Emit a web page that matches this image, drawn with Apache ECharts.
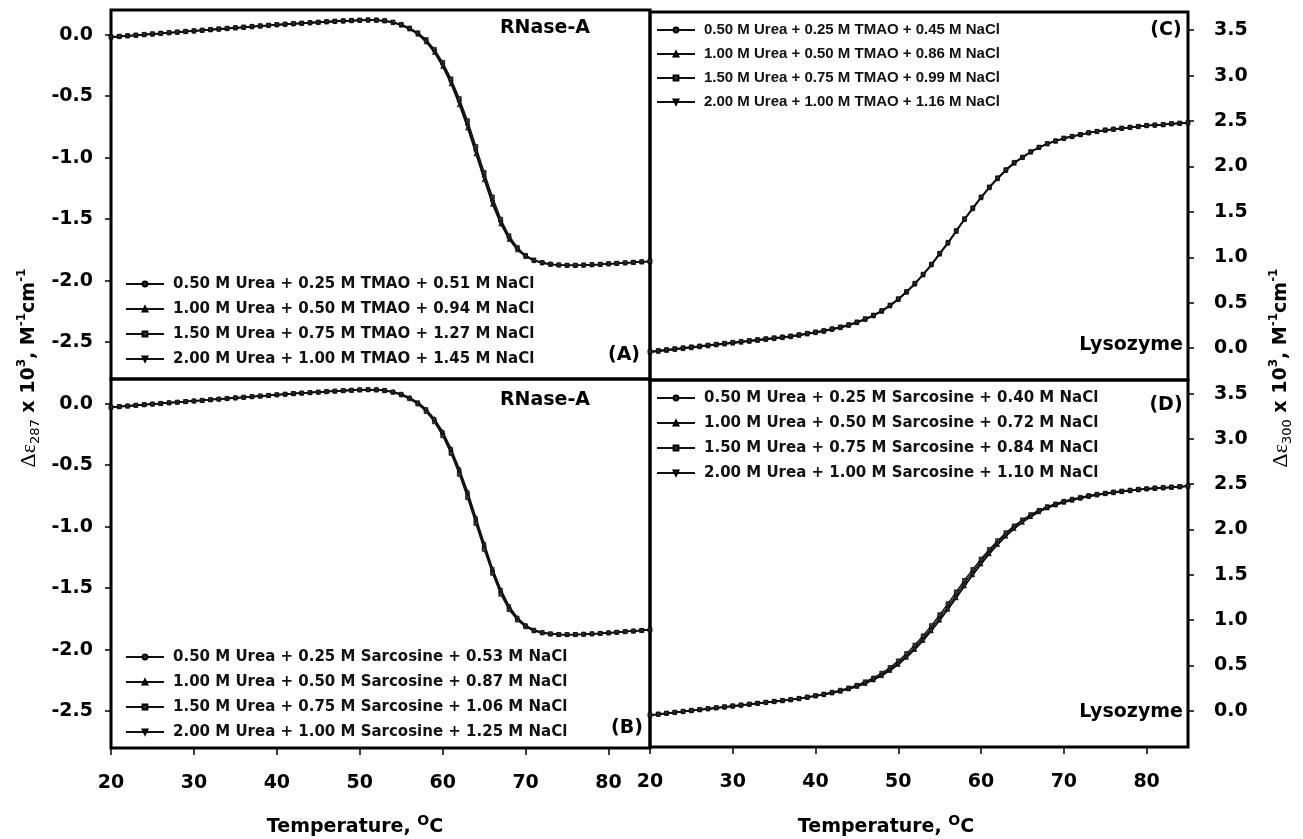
<!DOCTYPE html>
<html><head><meta charset="utf-8">
<script src="https://cdn.jsdelivr.net/npm/echarts@6/dist/echarts.min.js"></script>
<style>html,body{margin:0;padding:0;background:#fff}#c{width:1303px;height:839px}</style>
</head><body><div id="c"></div>
<script>
const temps = [20,21,22,23,24,25,26,27,28,29,30,31,32,33,34,35,36,37,38,39,40,41,42,43,44,45,46,47,48,49,50,51,52,53,54,55,56,57,58,59,60,61,62,63,64,65,66,67,68,69,70,71,72,73,74,75,76,77,78,79,80,81,82,83,84,85];
const xTicks = [20,30,40,50,60,70,80];
const yTicksRnase = [-2.5,-2.0,-1.5,-1.0,-0.5,0.0];
const yTicksLyso = [0.0,0.5,1.0,1.5,2.0,2.5,3.0,3.5];

const namesA = ['0.50 M Urea + 0.25 M TMAO + 0.51 M NaCl','1.00 M Urea + 0.50 M TMAO + 0.94 M NaCl','1.50 M Urea + 0.75 M TMAO + 1.27 M NaCl','2.00 M Urea + 1.00 M TMAO + 1.45 M NaCl'];
const namesB = ['0.50 M Urea + 0.25 M Sarcosine + 0.53 M NaCl','1.00 M Urea + 0.50 M Sarcosine + 0.87 M NaCl','1.50 M Urea + 0.75 M Sarcosine + 1.06 M NaCl','2.00 M Urea + 1.00 M Sarcosine + 1.25 M NaCl'];
const namesC = ['0.50 M Urea + 0.25 M TMAO + 0.45 M NaCl','1.00 M Urea + 0.50 M TMAO + 0.86 M NaCl','1.50 M Urea + 0.75 M TMAO + 0.99 M NaCl','2.00 M Urea + 1.00 M TMAO + 1.16 M NaCl'];
const namesD = ['0.50 M Urea + 0.25 M Sarcosine + 0.40 M NaCl','1.00 M Urea + 0.50 M Sarcosine + 0.72 M NaCl','1.50 M Urea + 0.75 M Sarcosine + 0.84 M NaCl','2.00 M Urea + 1.00 M Sarcosine + 1.10 M NaCl'];

const A1 = [-0.02,-0.015,-0.01,-0.005,0.0,0.005,0.01,0.015,0.02,0.025,0.03,0.035,0.04,0.045,0.05,0.055,0.06,0.065,0.07,0.075,0.08,0.084,0.088,0.092,0.096,0.10,0.104,0.108,0.111,0.114,0.117,0.119,0.118,0.112,0.10,0.08,0.05,0.01,-0.05,-0.13,-0.24,-0.38,-0.54,-0.73,-0.94,-1.15,-1.35,-1.52,-1.65,-1.74,-1.80,-1.835,-1.855,-1.867,-1.873,-1.876,-1.876,-1.874,-1.871,-1.868,-1.864,-1.86,-1.856,-1.852,-1.848,-1.844];
const A2 = [-0.022,-0.017,-0.012,-0.007,-0.002,0.003,0.008,0.013,0.018,0.023,0.028,0.033,0.038,0.043,0.048,0.053,0.058,0.063,0.068,0.073,0.078,0.082,0.086,0.09,0.094,0.098,0.102,0.106,0.109,0.112,0.115,0.117,0.116,0.11,0.097,0.076,0.045,0.003,-0.06,-0.145,-0.26,-0.40,-0.57,-0.76,-0.97,-1.18,-1.38,-1.54,-1.665,-1.75,-1.805,-1.838,-1.857,-1.868,-1.874,-1.877,-1.877,-1.875,-1.872,-1.869,-1.865,-1.861,-1.857,-1.853,-1.849,-1.845];
const A3 = [-0.018,-0.013,-0.008,-0.003,0.002,0.007,0.012,0.017,0.022,0.027,0.032,0.037,0.042,0.047,0.052,0.057,0.062,0.067,0.072,0.077,0.082,0.086,0.09,0.094,0.098,0.102,0.106,0.11,0.113,0.116,0.118,0.12,0.119,0.114,0.102,0.083,0.054,0.015,-0.04,-0.12,-0.225,-0.36,-0.52,-0.70,-0.91,-1.12,-1.32,-1.50,-1.635,-1.73,-1.795,-1.832,-1.853,-1.866,-1.872,-1.875,-1.875,-1.873,-1.87,-1.867,-1.863,-1.859,-1.855,-1.851,-1.847,-1.843];
const A4 = [-0.021,-0.016,-0.011,-0.006,-0.001,0.004,0.009,0.014,0.019,0.024,0.029,0.034,0.039,0.044,0.049,0.054,0.059,0.064,0.069,0.074,0.079,0.083,0.087,0.091,0.095,0.099,0.103,0.107,0.11,0.113,0.116,0.118,0.117,0.111,0.099,0.078,0.047,0.006,-0.055,-0.14,-0.25,-0.39,-0.555,-0.745,-0.955,-1.165,-1.365,-1.53,-1.658,-1.745,-1.802,-1.836,-1.856,-1.867,-1.874,-1.876,-1.876,-1.874,-1.871,-1.868,-1.864,-1.86,-1.856,-1.852,-1.848,-1.844];

const B1 = [-0.03,-0.025,-0.02,-0.014,-0.009,-0.004,0.001,0.006,0.011,0.016,0.021,0.026,0.031,0.036,0.041,0.046,0.051,0.056,0.061,0.066,0.071,0.076,0.081,0.085,0.089,0.093,0.097,0.101,0.105,0.108,0.111,0.113,0.112,0.106,0.094,0.074,0.044,0.003,-0.055,-0.135,-0.245,-0.385,-0.55,-0.74,-0.95,-1.16,-1.36,-1.53,-1.66,-1.75,-1.81,-1.845,-1.863,-1.873,-1.877,-1.878,-1.877,-1.875,-1.872,-1.868,-1.864,-1.859,-1.854,-1.849,-1.844,-1.839];
const B2 = [-0.028,-0.023,-0.018,-0.012,-0.007,-0.002,0.003,0.008,0.013,0.018,0.023,0.028,0.033,0.038,0.043,0.048,0.053,0.058,0.063,0.068,0.073,0.078,0.083,0.087,0.091,0.095,0.099,0.103,0.107,0.11,0.113,0.115,0.114,0.108,0.097,0.078,0.049,0.01,-0.045,-0.122,-0.228,-0.365,-0.53,-0.715,-0.925,-1.135,-1.34,-1.51,-1.645,-1.74,-1.803,-1.84,-1.86,-1.871,-1.876,-1.877,-1.876,-1.874,-1.871,-1.867,-1.863,-1.858,-1.853,-1.848,-1.843,-1.838];
const B3 = [-0.031,-0.026,-0.021,-0.015,-0.01,-0.005,0.0,0.005,0.01,0.015,0.02,0.025,0.03,0.035,0.04,0.045,0.05,0.055,0.06,0.065,0.07,0.075,0.08,0.084,0.088,0.092,0.096,0.1,0.104,0.107,0.11,0.112,0.11,0.104,0.091,0.07,0.039,-0.004,-0.065,-0.148,-0.262,-0.405,-0.575,-0.765,-0.975,-1.185,-1.38,-1.55,-1.675,-1.76,-1.815,-1.848,-1.865,-1.874,-1.878,-1.879,-1.878,-1.876,-1.873,-1.869,-1.865,-1.86,-1.855,-1.85,-1.845,-1.84];
const B4 = [-0.029,-0.024,-0.019,-0.013,-0.008,-0.003,0.002,0.007,0.012,0.017,0.022,0.027,0.032,0.037,0.042,0.047,0.052,0.057,0.062,0.067,0.072,0.077,0.082,0.086,0.09,0.094,0.098,0.102,0.106,0.109,0.112,0.114,0.113,0.107,0.095,0.076,0.046,0.006,-0.05,-0.13,-0.238,-0.375,-0.54,-0.728,-0.938,-1.148,-1.35,-1.52,-1.652,-1.745,-1.806,-1.842,-1.861,-1.872,-1.877,-1.878,-1.877,-1.875,-1.872,-1.868,-1.864,-1.859,-1.854,-1.849,-1.844,-1.839];

const C1 = [-0.04,-0.03,-0.02,-0.01,0.0,0.01,0.02,0.03,0.04,0.05,0.06,0.07,0.08,0.09,0.10,0.11,0.12,0.13,0.145,0.16,0.175,0.19,0.21,0.23,0.255,0.285,0.32,0.36,0.41,0.47,0.54,0.62,0.71,0.81,0.92,1.04,1.16,1.29,1.42,1.54,1.66,1.77,1.87,1.96,2.04,2.10,2.16,2.21,2.25,2.28,2.31,2.33,2.35,2.37,2.385,2.40,2.41,2.42,2.43,2.44,2.45,2.455,2.46,2.47,2.475,2.48];
const C2 = [-0.045,-0.035,-0.025,-0.015,-0.005,0.005,0.015,0.025,0.035,0.045,0.055,0.065,0.075,0.085,0.095,0.105,0.115,0.125,0.14,0.155,0.17,0.185,0.205,0.225,0.25,0.28,0.315,0.355,0.405,0.465,0.535,0.615,0.705,0.805,0.915,1.035,1.155,1.285,1.415,1.535,1.655,1.765,1.865,1.955,2.035,2.098,2.158,2.208,2.248,2.278,2.308,2.328,2.348,2.368,2.383,2.398,2.408,2.418,2.428,2.438,2.448,2.453,2.458,2.468,2.473,2.478];
const C3 = [-0.035,-0.025,-0.015,-0.005,0.005,0.015,0.025,0.035,0.045,0.055,0.065,0.075,0.085,0.095,0.105,0.115,0.125,0.135,0.15,0.165,0.18,0.195,0.215,0.235,0.26,0.29,0.325,0.365,0.415,0.475,0.545,0.625,0.715,0.815,0.925,1.045,1.165,1.295,1.425,1.545,1.665,1.775,1.875,1.965,2.045,2.102,2.162,2.212,2.252,2.282,2.312,2.332,2.352,2.372,2.387,2.402,2.412,2.422,2.432,2.442,2.452,2.457,2.462,2.472,2.477,2.482];
const C4 = [-0.042,-0.032,-0.022,-0.012,-0.002,0.008,0.018,0.028,0.038,0.048,0.058,0.068,0.078,0.088,0.098,0.108,0.118,0.128,0.143,0.158,0.173,0.188,0.208,0.228,0.253,0.283,0.318,0.358,0.408,0.468,0.538,0.618,0.708,0.808,0.918,1.038,1.158,1.288,1.418,1.538,1.658,1.768,1.868,1.958,2.038,2.1,2.16,2.21,2.25,2.28,2.31,2.33,2.35,2.37,2.385,2.4,2.41,2.42,2.43,2.44,2.45,2.455,2.46,2.47,2.475,2.48];

const D1 = [-0.05,-0.04,-0.03,-0.02,-0.01,0.0,0.01,0.02,0.03,0.04,0.05,0.06,0.07,0.08,0.09,0.10,0.11,0.12,0.135,0.15,0.165,0.18,0.20,0.22,0.245,0.275,0.31,0.35,0.40,0.46,0.53,0.61,0.70,0.80,0.91,1.03,1.15,1.28,1.41,1.53,1.65,1.76,1.86,1.95,2.03,2.10,2.16,2.21,2.25,2.28,2.31,2.33,2.35,2.37,2.385,2.40,2.41,2.42,2.43,2.44,2.45,2.455,2.46,2.465,2.47,2.48];
const D2 = [-0.05,-0.04,-0.03,-0.02,-0.01,0.0,0.01,0.02,0.03,0.04,0.05,0.06,0.07,0.08,0.09,0.10,0.11,0.12,0.132,0.147,0.162,0.177,0.195,0.215,0.24,0.267,0.30,0.34,0.387,0.445,0.512,0.59,0.677,0.775,0.882,1.0,1.12,1.247,1.377,1.5,1.62,1.732,1.835,1.927,2.01,2.08,2.142,2.195,2.237,2.27,2.30,2.322,2.345,2.365,2.38,2.395,2.405,2.417,2.427,2.437,2.447,2.452,2.457,2.465,2.47,2.477];
const D3 = [-0.045,-0.035,-0.025,-0.015,-0.005,0.005,0.015,0.025,0.035,0.045,0.055,0.065,0.075,0.085,0.095,0.105,0.115,0.125,0.137,0.152,0.167,0.185,0.205,0.227,0.252,0.282,0.32,0.362,0.415,0.477,0.55,0.632,0.725,0.827,0.94,1.06,1.182,1.312,1.44,1.56,1.675,1.78,1.877,1.965,2.04,2.107,2.165,2.212,2.252,2.282,2.312,2.335,2.355,2.375,2.39,2.40,2.415,2.425,2.435,2.445,2.45,2.46,2.465,2.47,2.475,2.48];
const D4 = [-0.05,-0.04,-0.03,-0.02,-0.01,0.0,0.01,0.02,0.03,0.04,0.05,0.06,0.07,0.08,0.09,0.10,0.11,0.12,0.133,0.148,0.163,0.178,0.196,0.216,0.24,0.268,0.30,0.34,0.387,0.445,0.51,0.59,0.678,0.775,0.882,0.998,1.12,1.247,1.376,1.5,1.62,1.733,1.835,1.928,2.01,2.08,2.14,2.195,2.238,2.27,2.3,2.323,2.345,2.365,2.38,2.395,2.405,2.418,2.428,2.438,2.447,2.453,2.458,2.466,2.472,2.478];

const SANS = "'DejaVu Sans', 'Liberation Sans', Arial, sans-serif";
const NARROW = "'Liberation Sans', Arial, sans-serif";
const symbols = ['circle','triangle','rect','path://M0,0 L10,0 L5,9 Z'];

const grids = [
  {left:111, top:10, width:539, height:369},
  {left:111, top:379, width:539, height:369},
  {left:650, top:12, width:538, height:368},
  {left:650, top:380, width:538, height:367}
].map(g => Object.assign(g, {show:true, borderColor:'#000', borderWidth:3, backgroundColor:'transparent'}));

function xAxis(i, showLabels) {
  return {
    gridIndex:i, type:'value', min:20, max:85, position:'bottom',
    axisLine:{show:false, onZero:false}, splitLine:{show:false},
    axisTick:{show:showLabels, length:7, lineStyle:{color:'#000', width:1.5}, customValues:xTicks},
    axisLabel:{show:showLabels, customValues:xTicks, margin:26, fontSize:19, fontWeight:'bold', color:'#000', fontFamily:SANS}
  };
}
function yAxis(i, min, max, ticks, pos) {
  return {
    gridIndex:i, type:'value', min:min, max:max, position:pos,
    axisLine:{show:false, onZero:false}, splitLine:{show:false},
    axisTick:{show:true, length:6, lineStyle:{color:'#000', width:1.5}, customValues:ticks},
    axisLabel:{customValues:ticks, formatter:v => v.toFixed(1), margin: pos==='left'?18:26,
      fontSize:19, fontWeight:'bold', color:'#000', fontFamily:SANS}
  };
}

const panels = [
  {names:namesA, data:[A1,A2,A3,A4]},
  {names:namesB, data:[B1,B2,B3,B4]},
  {names:namesC, data:[C1,C2,C3,C4]},
  {names:namesD, data:[D1,D2,D3,D4]}
];
const series = [];
panels.forEach((p, gi) => {
  p.data.forEach((vals, si) => {
    series.push({
      type:'line', name:p.names[si], xAxisIndex:gi, yAxisIndex:gi,
      data: temps.map((t, k) => [t, vals[k]]),
      symbol: symbols[si], symbolSize: 4, showSymbol:true,
      lineStyle:{color:'#111', width:1.4},
      itemStyle:{color:'#333', borderColor:'#000', borderWidth:0.6},
      emphasis:{disabled:true}, animation:false, z: 3
    });
  });
});

function legend(names, left, top, fs, gap, fam) {
  return {
    data:names, orient:'vertical', left:left, top:top, padding:0,
    itemWidth:38, itemHeight:6, itemGap:gap, selectedMode:false,
    textStyle:{fontFamily:fam, fontWeight:'bold', fontSize:fs, color:'#111', padding:[0,0,0,4], lineHeight:18}
  };
}

const txt = (t, x, y, fs, align) => ({type:'text', x:x, y:y, silent:true,
  style:{text:t, fontFamily:SANS, fontWeight:'bold', fontSize:fs, fill:'#000', align:align||'center', verticalAlign:'middle'}});

const ytitleRich = {
  d:{fontFamily:"'Liberation Serif', 'DejaVu Serif', serif", fontSize:22, lineHeight:26, fill:'#000'},
  sub:{fontFamily:SANS, fontSize:13, lineHeight:8, verticalAlign:'bottom', fill:'#000'},
  b:{fontFamily:SANS, fontWeight:'bold', fontSize:19, lineHeight:26, fill:'#000'},
  sup:{fontFamily:SANS, fontWeight:'bold', fontSize:12, lineHeight:8, verticalAlign:'top', fill:'#000'}
};
const ytitle = (sub, x, y) => ({type:'text', x:x, y:y, rotation:Math.PI/2, silent:true,
  style:{text:'{d|Δε}{sub|'+sub+'}{b| x 10}{sup|3}{b|, M}{sup|-1}{b|cm}{sup|-1}', rich:ytitleRich, align:'center', verticalAlign:'middle'}});
const xtitle = (x, y) => ({type:'text', x:x, y:y, silent:true,
  style:{text:'{b|Temperature, }{sup|O}{b|C}', align:'center', verticalAlign:'middle',
    rich:{b:{fontFamily:SANS, fontWeight:'bold', fontSize:19, lineHeight:26, fill:'#000'},
          sup:{fontFamily:SANS, fontWeight:'bold', fontSize:14, lineHeight:12, verticalAlign:'top', fill:'#000'}}}});

const option = {
  backgroundColor:'#fff', animation:false,
  grid: grids,
  xAxis: [xAxis(0,false), xAxis(1,true), xAxis(2,false), xAxis(3,true)],
  yAxis: [yAxis(0,-2.8,0.2,yTicksRnase,'left'), yAxis(1,-2.8,0.2,yTicksRnase,'left'),
          yAxis(2,-0.35,3.7,yTicksLyso,'right'), yAxis(3,-0.4,3.65,yTicksLyso,'right')],
  legend: [
    legend(namesA, 125, 275, 15, 7, SANS),
    legend(namesB, 125, 648, 15, 7, SANS),
    legend(namesC, 656, 21, 15, 6, NARROW),
    legend(namesD, 656, 389, 15, 7, SANS)
  ],
  series: series,
  graphic: [
    txt('RNase-A', 545, 28, 19), txt('RNase-A', 545, 400, 19),
    txt('(A)', 624, 355, 19), txt('(B)', 627, 728, 19),
    txt('(C)', 1166, 30, 19), txt('(D)', 1166, 405, 19),
    txt('Lysozyme', 1183, 345, 19, 'right'), txt('Lysozyme', 1183, 712, 19, 'right'),
    xtitle(355, 827), xtitle(886, 827),
    ytitle('287', 29, 368), ytitle('300', 1281, 368)
  ]
};
const chart = echarts.init(document.getElementById('c'), null, {renderer:'canvas'});
chart.setOption(option);
</script></body></html>
